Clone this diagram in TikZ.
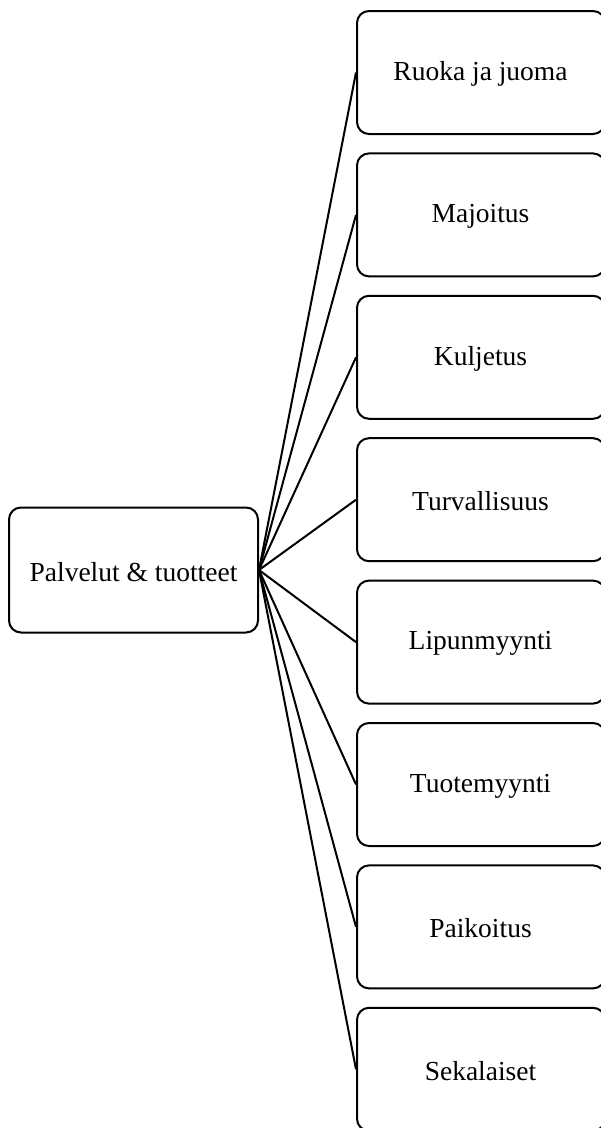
\documentclass[tikz,border=0pt]{standalone}
\usepackage{fontspec}
\setmainfont{Liberation Serif}
\begin{document}
\begin{tikzpicture}[x=1pt,y=-1pt,
  box/.style={draw,line width=2pt,rounded corners=12pt,font=\fontsize{27.5}{30}\selectfont},
  lbl/.style={font=\fontsize{27.5}{30}\selectfont,inner sep=0pt},
  link/.style={line width=2pt}]
\useasboundingbox (0,0) rectangle (601,1128);
\clip (0,0) rectangle (601,1128);
\node[box,minimum width=249pt,minimum height=125pt] (root) at (133.5,570) {};
\node[lbl] (rt) at (133.5,572) {Palvelut \& tuotteet};
\foreach \i/\t in {0/Ruoka ja juoma,1/Majoitus,2/Kuljetus,3/Turvallisuus,4/Lipunmyynti,5/Tuotemyynti,6/Paikoitus,7/Sekalaiset}{
  \node[box,minimum width=248pt,minimum height=123pt,anchor=north west,inner sep=0pt] (c\i) at (356,{10+142.4*\i}) {};
  \node[lbl] (t\i) at (480.5,{10+142.4*\i+64}) {\t};
  \draw[link] (root.east) -- (c\i.west);
}
\end{tikzpicture}
\end{document}
